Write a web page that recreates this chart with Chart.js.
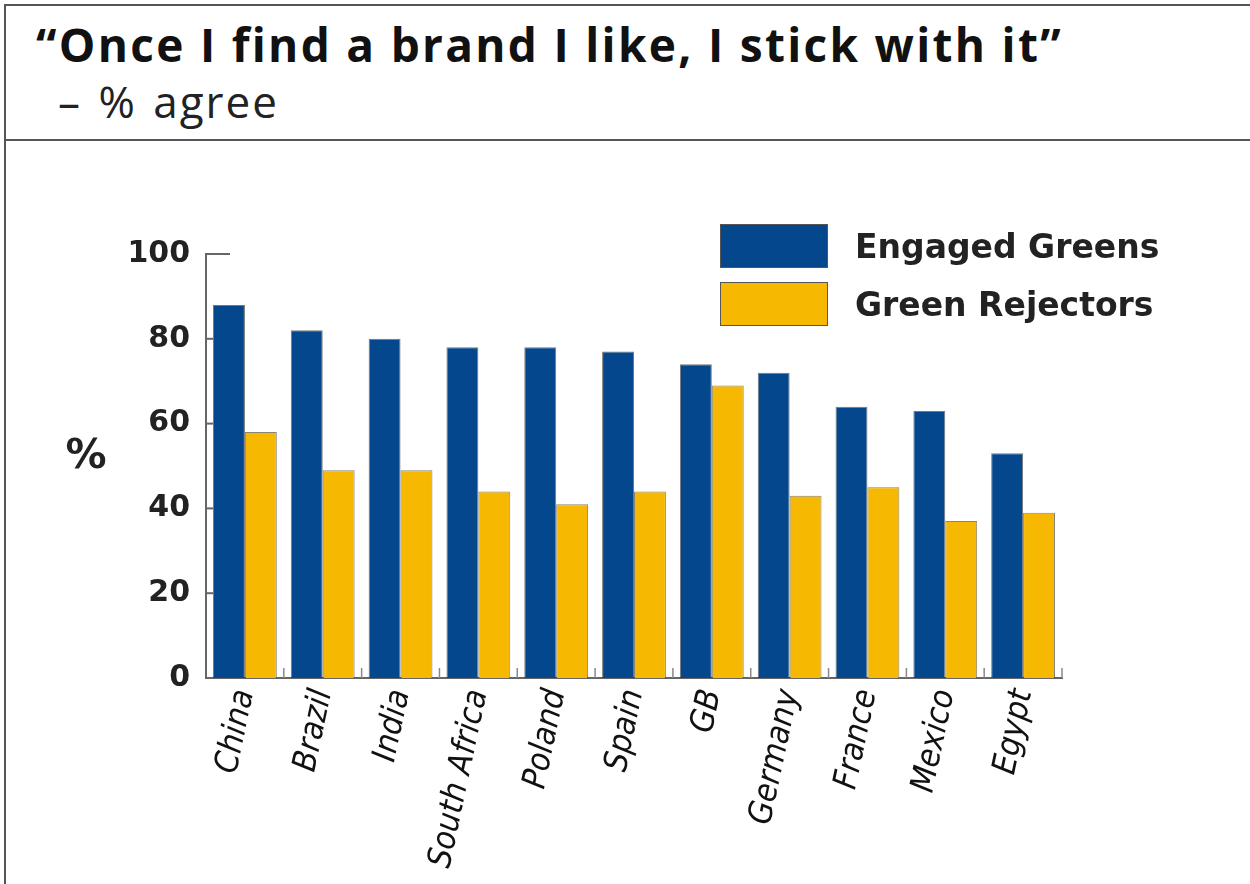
<!DOCTYPE html>
<html>
<head>
<meta charset="utf-8">
<script src="https://cdn.jsdelivr.net/npm/chart.js@4.4.1/dist/chart.umd.min.js"></script>
<style>
  body { margin: 0; background: #fff; width: 1250px; height: 884px; overflow: hidden; position: relative; }
  #frame { position: absolute; left: 4px; top: 4px; width: 1260px; height: 900px; border-top: 2px solid #555; border-left: 2px solid #555; }
  #sep { position: absolute; left: 4px; top: 139px; width: 1260px; border-top: 2px solid #555; }
  #title { position: absolute; left: 36px; top: 21px; font: bold 46px 'Open Sans', sans-serif; letter-spacing: 2.3px; white-space: nowrap; color: #111; line-height: 46px; }
  #sub { position: absolute; left: 58px; top: 79px; font: 44px 'Open Sans', sans-serif; letter-spacing: 2px; word-spacing: 3px; white-space: nowrap; color: #222; line-height: 44px; }
  #wrap { position: absolute; left: 7px; top: 143px; width: 1243px; height: 741px; }
  #legenda { position: absolute; left: 720px; top: 217px; font: bold 33px 'DejaVu Sans', sans-serif; color: #222; }
  .item { display: flex; align-items: center; height: 58px; }
  .sw { width: 106px; height: 42px; border: 1px solid #555; margin-right: 27px; }
</style>
</head>
<body>
<div id="frame"></div>
<div id="sep"></div>
<div id="title">“Once I find a brand I like, I stick with it”</div>
<div id="sub">– % agree</div>
<div id="wrap"><canvas id="grafico"></canvas></div>
<div id="legenda"></div>
<script>
// Dados
const paises = ['China', 'Brazil', 'India', 'South Africa', 'Poland', 'Spain', 'GB', 'Germany', 'France', 'Mexico', 'Egypt'];
const engagedGreens = [88, 82, 80, 78, 78, 77, 74, 72, 64, 63, 53];
const greenRejectors = [58, 49, 49, 44, 41, 44, 69, 43, 45, 37, 39];
const ticksY = [0, 20, 40, 60, 80, 100];

const azul = '#04478c';
const amarelo = '#f6b800';

// Marcas internas dos eixos e o símbolo %
const marcas = {
  id: 'marcas',
  afterDraw(chart) {
    const { ctx, chartArea: a, scales: { x, y } } = chart;
    ctx.save();
    ctx.strokeStyle = '#666';
    ctx.lineWidth = 2;
    ticksY.forEach(v => {
      if (v === 0) return;
      const py = y.getPixelForValue(v);
      const len = v === 100 ? 24 : 7;
      ctx.beginPath();
      ctx.moveTo(a.left, py);
      ctx.lineTo(a.left + len, py);
      ctx.stroke();
    });
    ctx.lineWidth = 1.5;
    ctx.strokeStyle = '#888';
    for (let i = 1; i <= paises.length; i++) {
      const px = i < paises.length ? (x.getPixelForValue(i - 1) + x.getPixelForValue(i)) / 2 : a.right;
      ctx.beginPath();
      ctx.moveTo(px, a.bottom);
      ctx.lineTo(px, a.bottom - 10);
      ctx.stroke();
    }
    ctx.fillStyle = '#222';
    ctx.font = 'bold 41px "DejaVu Sans", sans-serif';
    ctx.textAlign = 'center';
    ctx.textBaseline = 'middle';
    ctx.fillText('%', 79, y.getPixelForValue(52));
    ctx.restore();
  }
};

function criarGrafico() {
  const ctx = document.getElementById('grafico').getContext('2d');
  const chart = new Chart(ctx, {
    type: 'bar',
    data: {
      labels: paises,
      datasets: [
        { label: 'Engaged Greens', data: engagedGreens, backgroundColor: azul, borderColor: 'rgba(30,30,30,0.6)', borderWidth: 1 },
        { label: 'Green Rejectors', data: greenRejectors, backgroundColor: amarelo, borderColor: 'rgba(60,50,20,0.6)', borderWidth: 1 },
      ],
    },
    options: {
      responsive: true,
      maintainAspectRatio: false,
      animation: false,
      layout: { padding: { top: 111, right: 188, left: 0, bottom: 0 } },
      datasets: { bar: { categoryPercentage: 0.82, barPercentage: 1.0 } },
      plugins: { legend: { display: false }, tooltip: { enabled: false } },
      scales: {
        x: {
          grid: { display: false, drawTicks: false },
          border: { display: true, color: '#666', width: 2 },
          ticks: {
            autoSkip: false,
            minRotation: 78,
            maxRotation: 78,
            padding: 8,
            color: '#111',
            font: { family: "'Liberation Sans Narrow', 'DejaVu Sans Condensed', sans-serif", size: 33, style: 'italic' },
          },
          afterFit(scale) { scale.height = 206; },
        },
        y: {
          min: 0,
          max: 100,
          grid: { display: false, drawTicks: false },
          border: { display: true, color: '#666', width: 2 },
          afterBuildTicks(scale) { scale.ticks = ticksY.map(v => ({ value: v })); },
          ticks: {
            padding: 16,
            color: '#222',
            font: { family: "'DejaVu Sans', sans-serif", size: 30, weight: 'bold' },
          },
          afterFit(scale) { scale.width = 199; },
        },
      },
    },
    plugins: [marcas],
  });

  // Legenda em HTML a partir dos datasets
  const legenda = document.getElementById('legenda');
  chart.data.datasets.forEach(ds => {
    const item = document.createElement('div');
    item.className = 'item';
    item.innerHTML = `<div class="sw" style="background:${ds.backgroundColor}"></div><span>${ds.label}</span>`;
    legenda.appendChild(item);
  });
}

document.addEventListener('DOMContentLoaded', criarGrafico);
</script>
</body>
</html>
